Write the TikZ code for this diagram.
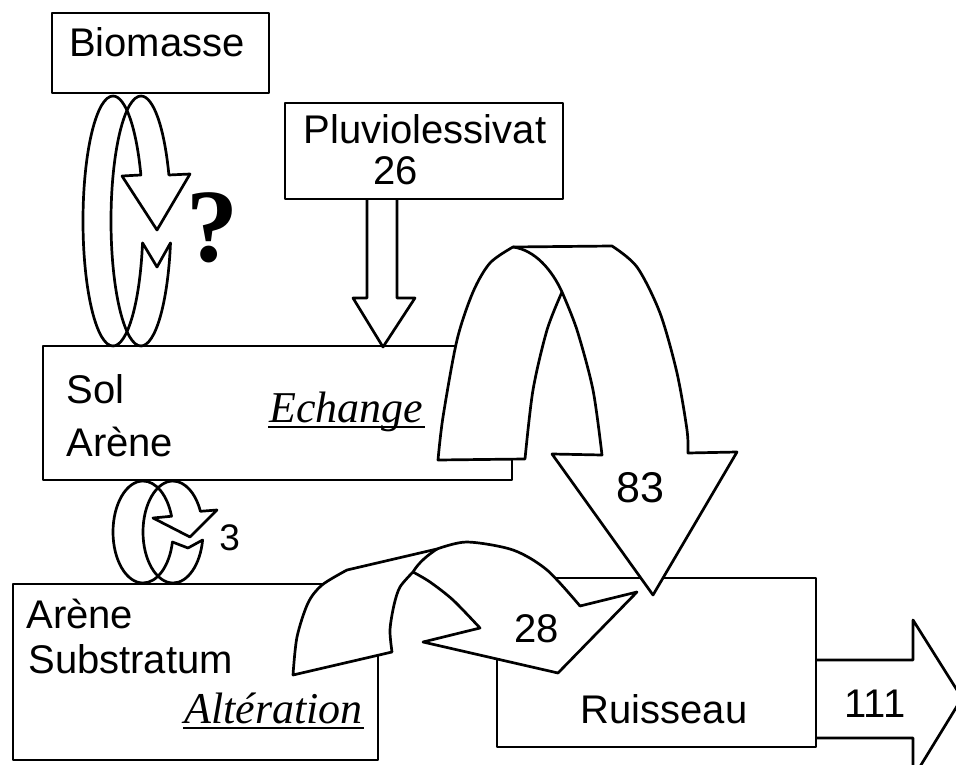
\documentclass[tikz,border=0pt]{standalone}
\usepackage{fontspec}
\setmainfont{Liberation Sans}
\newfontfamily\timesfont{Liberation Serif}

\newcommand*{\xmax}{956}
\newcommand*{\ymax}{765}

\begin{document}
\begin{tikzpicture}
[
	x=1pt, y=-1pt,
	line width=2.7pt, line join=round,
	box/.style={draw,rectangle,inner sep=0pt},
	lbl/.style={inner sep=0pt,font=\fontsize{40}{44}\selectfont},
	ital/.style={inner sep=0pt,font=\fontsize{44}{48}\selectfont\timesfont\itshape},
	ribbon/.style={draw,fill=white},
	bigring/.style={x radius=30,y radius=125},
	smallring/.style={x radius=30,y radius=51}
]

	% page
	\clip (0,0) rectangle (\xmax,\ymax);
	\fill[white] (0,0) rectangle (\xmax,\ymax);

	% straight arrows
	\draw (367,199) -- (367,298) -- (353,298) -- (383,347) -- (415,298) -- (397,298) -- (397,199);
	\draw (816,660) -- (913,660) -- (913,620) -- (962,698) -- (913,778) -- (913,738) -- (816,738);

	% boxes
	\node[box,minimum width=217pt,minimum height=80pt] (biomasse) at (160.5,53) {};
	\node[box,minimum width=278pt,minimum height=96pt] (pluvio) at (424,151) {};
	\node[box,minimum width=469pt,minimum height=134pt] (sol) at (277.5,413) {};
	\node[box,minimum width=365pt,minimum height=176pt] (arene) at (195.5,672) {};
	\node[box,minimum width=319pt,minimum height=169pt] (ruisseau) at (656.5,662.5) {};

	% cycle biomasse - sol
	\foreach \cx in {113,141} {
		\draw (\cx,96) arc[start angle=-90,end angle=-270,bigring];
	}
	\draw (113,96) arc[start angle=-90,end angle=-21.6,bigring]
		-- (122,176) -- (157,230) -- (190,174) -- (168.9,175)
		arc[start angle=-21.6,end angle=-90,bigring];
	\draw (113,346) arc[start angle=90,end angle=10.1,bigring]
		-- (157,267) -- (170.5,242.9)
		arc[start angle=10.1,end angle=90,bigring];

	% cycle sol - arene
	\foreach \cx in {143,173} {
		\draw (\cx,481) arc[start angle=-90,end angle=-270,smallring];
	}
	\draw (143,481) arc[start angle=-90,end angle=-18,smallring]
		-- (153,518) -- (190,537) -- (217,510) -- (200.4,511.3)
		arc[start angle=-24,end angle=-90,smallring];
	\draw (143,583) arc[start angle=90,end angle=11.3,smallring]
		-- (188,548) -- (202.6,540)
		arc[start angle=9,end angle=90,smallring];

	% echange arch
	\draw[ribbon] plot[smooth] coordinates {(438,460) (443,417) (457,340) (473,292) (490,263) (513,247)}
		-- (612,246)
		-- plot[smooth] coordinates {(612,246) (637,267) (660,313) (677,373) (687,430) (688,453)}
		-- (737,452) -- (653,595) -- (552,454) -- (602,455)
		-- plot[smooth] coordinates {(602,455) (593,390) (577,330) (562,292)}
		-- plot[smooth] coordinates {(562,292) (547,330) (533,390) (525,459)}
		-- cycle;
	\draw (513,247) .. controls (535,250) and (552,270) .. (562,292);

	% alteration arch
	\draw[ribbon] plot[smooth] coordinates {(293,675) (297,637) (308,603) (322,585) (347,570)}
		-- (437,549)
		-- plot[smooth] coordinates {(437,549) (467,542) (513,550) (547,570) (580,606)}
		-- (637,592) -- (558,673) -- (423,642) -- (480,628)
		-- plot[smooth] coordinates {(480,628) (453,600) (430,582) (413,572)}
		-- plot[smooth] coordinates {(413,572) (400,587) (394,605) (390,630) (392,652)}
		-- cycle;
	\draw (437,549) .. controls (428,555) and (419,562) .. (413,572);

	% labels
	\node[lbl,anchor=base] (tbio) at (157,57) {Biomasse};
	\node[lbl,anchor=base] (tpluvio) at (425,143) {Pluviolessivat};
	\node[lbl,anchor=base] (t26) at (396,185) {26};
	\node[lbl,anchor=base west] (tsol) at (65,403) {Sol};
	\node[lbl,anchor=base west] (tarene) at (65,456) {Arène};
	\node[lbl,anchor=base west] (tarene2) at (25,628) {Arène};
	\node[lbl,anchor=base west] (tsubstr) at (27,673) {Substratum};
	\node[lbl,anchor=base] (truisseau) at (664,723) {Ruisseau};
	\node[lbl,anchor=base] (t111) at (875,717) {111};
	\node[lbl,anchor=base,font=\fontsize{43}{46}\selectfont] (t83) at (640,502) {83};
	\node[lbl,anchor=base] (t28) at (537,642) {28};
	\node[lbl,anchor=base west,font=\fontsize{37}{40}\selectfont] (t3) at (218,550) {3};
	\node[inner sep=0pt,anchor=base,font=\fontsize{104}{108}\selectfont\timesfont\bfseries] (tq) at (212,261) {?};

	% underlined processes
	\node[ital,anchor=base west] (techange) at (268,422) {Echange};
	\node[ital,anchor=base west] (talter) at (183,723) {Altération};
	\draw[line width=1.8pt] ([yshift=-5pt]techange.base west) -- ([yshift=-5pt]techange.base east);
	\draw[line width=1.8pt] ([yshift=-5pt]talter.base west) -- ([yshift=-5pt]talter.base east);

\end{tikzpicture}
\end{document}
